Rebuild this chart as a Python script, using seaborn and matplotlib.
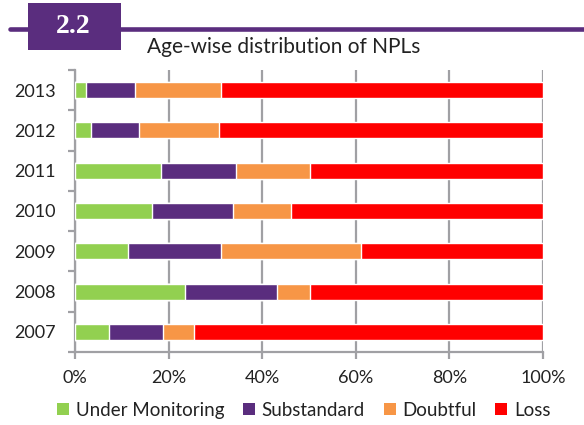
import matplotlib
matplotlib.use("Agg")
import matplotlib.pyplot as plt
import seaborn as sns
import pandas as pd
import numpy as np
from matplotlib.patches import Patch, Rectangle
from matplotlib.lines import Line2D

# data (% share of NPLs by age category)
years = ["2007", "2008", "2009", "2010", "2011", "2012", "2013"]
under_monitoring = [7.3, 23.5, 11.3, 16.5, 18.4, 3.4, 2.4]
substandard = [11.6, 19.7, 19.9, 17.2, 16.0, 10.3, 10.4]
doubtful = [6.5, 7.1, 29.9, 12.4, 15.9, 17.1, 18.5]
loss = [74.6, 49.7, 38.9, 53.9, 49.7, 69.2, 68.7]

series = ["Under Monitoring", "Substandard", "Doubtful", "Loss"]
colors = ["#92D050", "#5A2D7E", "#F79646", "#FF0000"]
PURPLE = "#5A2D7E"
TXT = "#222222"

sns.set_theme(style="white")
plt.rcParams['font.family'] = ['Lato', 'DejaVu Sans']

df = pd.DataFrame({"year": years, "Under Monitoring": under_monitoring,
                   "Substandard": substandard, "Doubtful": doubtful, "Loss": loss})
cum = df[series].cumsum(axis=1)
cum["year"] = df["year"]
order = years[::-1]

fig = plt.figure(figsize=(5.84, 4.25), dpi=100)
ax = fig.add_axes([0.1284, 0.1718, 0.8014, 0.6635])

# stacked bars: draw cumulative totals from the largest down
for name, col in reversed(list(zip(series, colors))):
    sns.barplot(data=cum, x=name, y="year", order=order, orient="h",
                color=col, width=0.4, saturation=1, ax=ax, zorder=3)

ax.set_xlim(0, 100)
ax.set_xticks([0, 20, 40, 60, 80, 100])
ax.set_xticklabels([f"{t}%" for t in [0, 20, 40, 60, 80, 100]])
ax.set_xlabel("")
ax.set_ylabel("")
ax.grid(axis="x", color="#A0A0A4", linewidth=1.6, zorder=0)
for s in ["top", "right"]:
    ax.spines[s].set_visible(False)
for s in ["left", "bottom"]:
    ax.spines[s].set_color("#A0A0A4")
    ax.spines[s].set_linewidth(1.6)
ax.tick_params(axis="x", which="major", bottom=True, length=5, width=1.6,
               color="#A0A0A4", labelsize=13, labelcolor=TXT, pad=8)
ax.tick_params(axis="y", which="major", left=False, labelsize=13,
               labelcolor=TXT, pad=8)
ax.set_yticks(np.arange(-0.5, len(years)), minor=True)
ax.tick_params(axis="y", which="minor", left=True, length=5, width=1.6, color="#A0A0A4")
ax.set_ylim(len(years) - 0.5, -0.5)

handles = [Patch(facecolor=c, edgecolor="none", label=n) for n, c in zip(series, colors)]
fig.legend(handles=handles, loc="lower center", bbox_to_anchor=(0.52, -0.025), ncol=4,
           frameon=False, fontsize=13.5, handlelength=0.65, handleheight=0.65,
           handletextpad=0.35, columnspacing=1.0, labelcolor=TXT)

# header band
fig.add_artist(Line2D([10 / 584, 1.0], [0.9306, 0.9306], color=PURPLE, linewidth=3.3))
fig.add_artist(Rectangle((28 / 584, 1 - 50 / 425), 93 / 584, 47 / 425,
                         facecolor=PURPLE, edgecolor="none", transform=fig.transFigure))
fig.text(73 / 584, 1 - 26.5 / 425, "2.2", color="white", fontsize=20, fontweight="bold",
         family=["Liberation Serif", "DejaVu Serif"], ha="center", va="center")
fig.text(284 / 584, 1 - 47 / 425, "Age-wise distribution of NPLs", fontsize=15,
         color=TXT, ha="center", va="center")

fig.savefig("out.png", dpi=100)
